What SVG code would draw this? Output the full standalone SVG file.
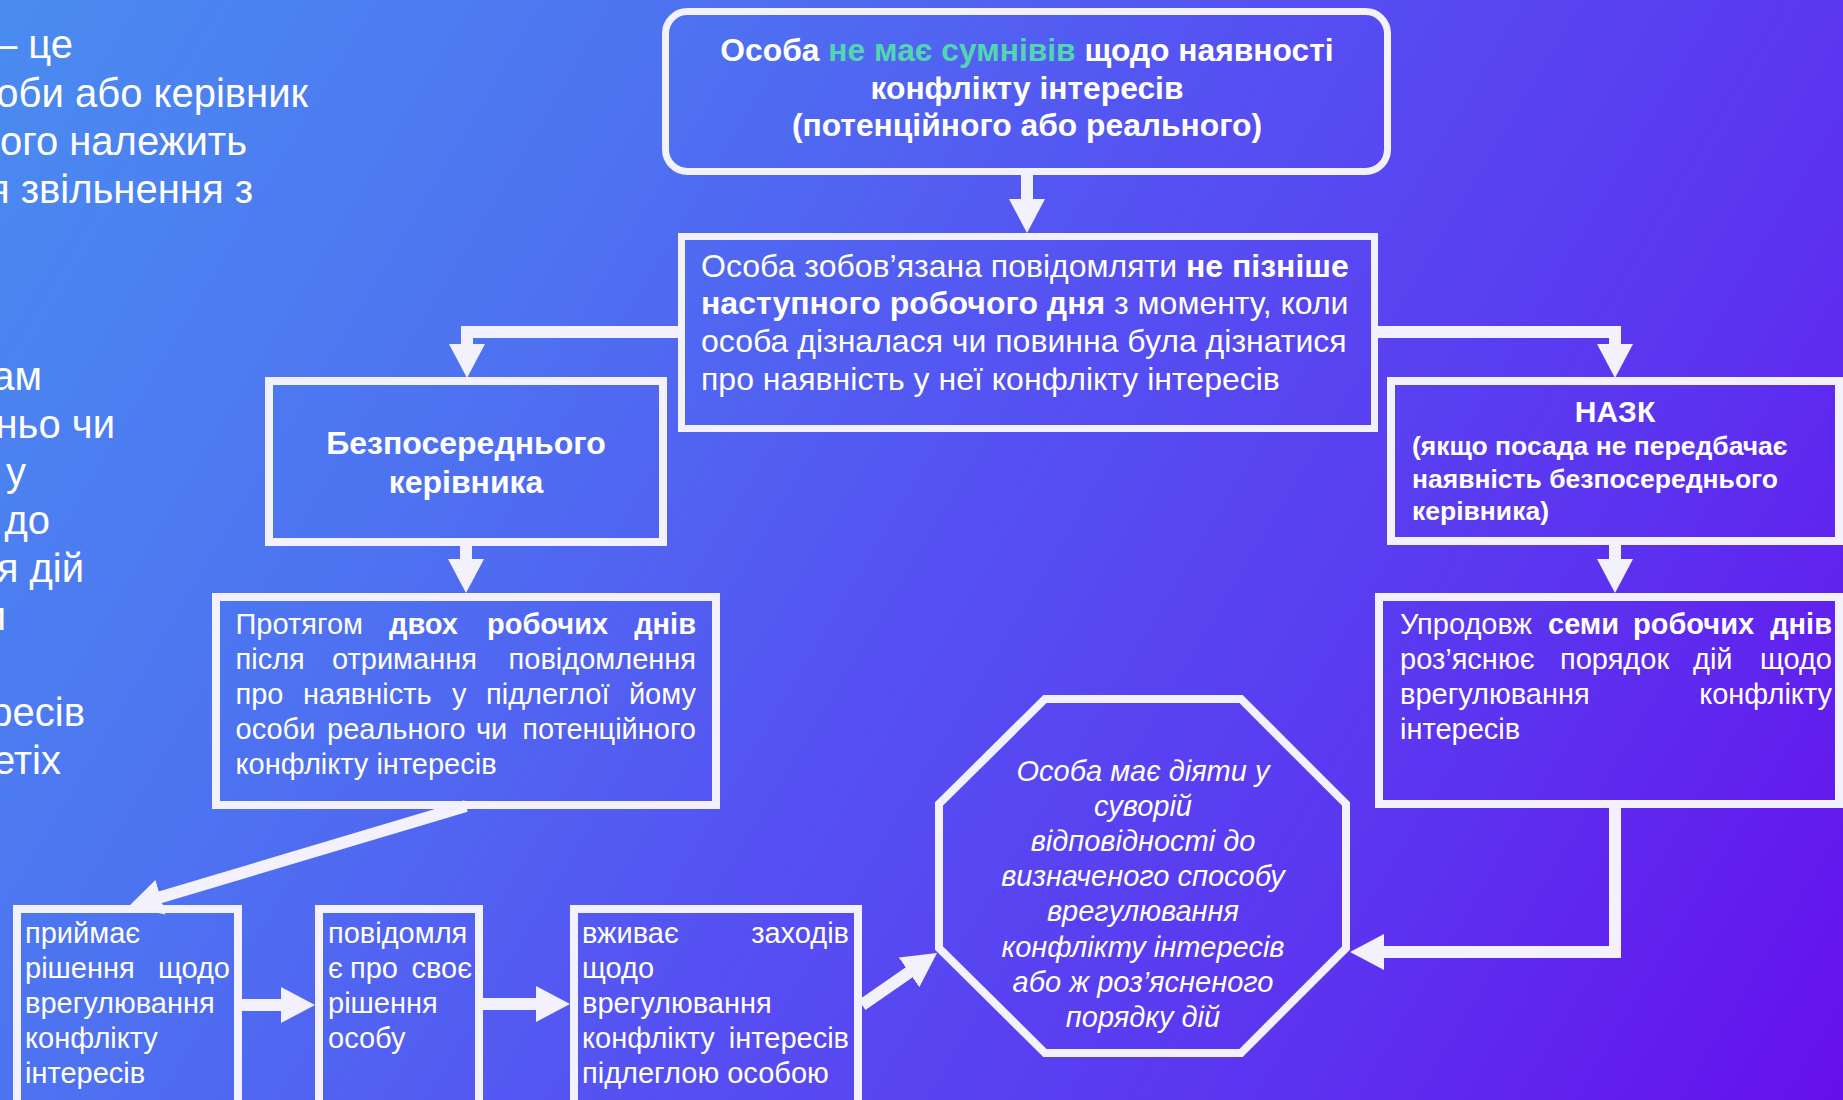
<svg xmlns="http://www.w3.org/2000/svg" width="1843" height="1100" viewBox="0 0 1843 1100">
<defs>
<linearGradient id="bg" gradientUnits="userSpaceOnUse" x1="0" y1="0" x2="1843" y2="1100">
<stop offset="0" stop-color="#4a8cf0"/>
<stop offset="0.3" stop-color="#4e70f1"/>
<stop offset="0.5" stop-color="#5552f2"/>
<stop offset="0.75" stop-color="#5b36f0"/>
<stop offset="1" stop-color="#6610ec"/>
</linearGradient>
<marker id="ah" markerUnits="userSpaceOnUse" markerWidth="34" markerHeight="36" viewBox="0 0 34 36" refX="2" refY="18" orient="auto">
<path d="M0 0 L34 18 L0 36 Z" fill="#f3f1fb"/>
</marker>
<style>
.t{font-family:"Liberation Sans",Arial,sans-serif;fill:#ffffff}
.b{font-weight:bold}
.i{font-style:italic}
.g{fill:#52d6b2}
.box{fill:none;stroke:#f3f1fb;stroke-width:8}
.con{fill:none;stroke:#f3f1fb;stroke-width:12;stroke-linejoin:miter;marker-end:url(#ah)}
.f40{font-size:40px}
.f32{font-size:32px}
.f29{font-size:29px}
.e{text-anchor:end}
.m{text-anchor:middle}
</style>
</defs>
<rect x="0" y="0" width="1843" height="1100" fill="url(#bg)"/>

<g id="left-text" class="t f40">
<text class="e" x="73" y="58">– це</text>
<text class="e" x="308" y="107">оби або керівник</text>
<text class="e" x="247" y="155">ого належить</text>
<text class="e" x="253" y="203">я звільнення з</text>
<text class="e" x="42" y="390">ам</text>
<text class="e" x="115" y="438">ньо чи</text>
<text class="e" x="26" y="486">у</text>
<text class="e" x="50" y="534">до</text>
<text class="e" x="84" y="582">я дій</text>
<text class="e" x="6" y="630">и</text>
<text class="e" x="85" y="726">ресів</text>
<text class="e" x="61" y="774">етіх</text>
</g>

<g id="connectors">
<path class="con" d="M1027 175 V201"/>
<path class="con" d="M681 332 H467 V346"/>
<path class="con" d="M1375 332 H1615 V346"/>
<path class="con" d="M466 546 V561"/>
<path class="con" d="M1615 545 V561"/>
<path class="con" d="M466 806 L158.7 897.8"/>
<path class="con" d="M242 1005 H283"/>
<path class="con" d="M483 1004 H538"/>
<path class="con" d="M862 1005 L910.7 971.2"/>
<path class="con" d="M1615 808 V952 H1382"/>
</g>

<g id="node-top">
<rect class="box" x="665.5" y="11.5" width="722" height="160" rx="22" style="stroke-width:7"/>
<text class="t b m" style="font-size:31.8px" x="1027" y="61">Особа <tspan class="g">не має сумнівів</tspan> щодо наявності</text>
<text class="t b m" style="font-size:31.8px" x="1027" y="98.5">конфлікту інтересів</text>
<text class="t b m" style="font-size:31.8px" x="1027" y="136">(потенційного або реального)</text>
</g>

<g id="node-notify">
<rect class="box" x="681.5" y="236.5" width="693" height="192" style="stroke-width:7"/>
<text class="t f32" x="701" y="277">Особа зобов’язана повідомляти <tspan class="b">не пізніше</tspan></text>
<text class="t f32" x="701" y="314"><tspan class="b">наступного робочого дня</tspan> з моменту, коли</text>
<text class="t f32" x="701" y="352">особа дізналася чи повинна була дізнатися</text>
<text class="t f32" x="701" y="390">про наявність у неї конфлікту інтересів</text>
</g>

<g id="node-manager">
<rect class="box" x="269" y="381" width="394" height="161"/>
<text class="t b m f32" x="466" y="454">Безпосереднього</text>
<text class="t b m f32" x="466" y="493">керівника</text>
</g>

<g id="node-nazk">
<rect class="box" x="1391" y="381" width="448" height="160"/>
<text class="t b m" style="font-size:30px" x="1615" y="422">НАЗК</text>
<text class="t b" style="font-size:26.5px" x="1412" y="455">(якщо посада не передбачає</text>
<text class="t b" style="font-size:26.5px" x="1412" y="488">наявність безпосереднього</text>
<text class="t b" style="font-size:26.5px" x="1412" y="520">керівника)</text>
</g>

<g id="node-two-days" class="t f29">
<rect class="box" x="216" y="597" width="500" height="208"/>
<text x="235.5" y="634">Протягом</text>
<text class="b" x="389" y="634">двох</text>
<text class="b" x="487" y="634">робочих</text>
<text class="b e" x="696" y="634">днів</text>
<text x="235.5" y="669">після</text>
<text x="332" y="669">отримання</text>
<text class="e" x="696" y="669">повідомлення</text>
<text x="235.5" y="704">про</text>
<text x="303" y="704">наявність</text>
<text x="452" y="704">у</text>
<text x="486" y="704">підлеглої</text>
<text class="e" x="696" y="704">йому</text>
<text x="235.5" y="739">особи</text>
<text x="327" y="739">реального</text>
<text x="476" y="739">чи</text>
<text class="e" x="696" y="739">потенційного</text>
<text x="235.5" y="774">конфлікту інтересів</text>
</g>

<g id="node-seven-days" class="t f29">
<rect class="box" x="1379" y="597" width="460" height="207"/>
<text x="1400" y="634">Упродовж</text>
<text class="b" x="1548" y="634">семи</text>
<text class="b" x="1633" y="634">робочих</text>
<text class="b e" x="1832" y="634">днів</text>
<text x="1400" y="669">роз’яснює</text>
<text x="1560" y="669">порядок</text>
<text x="1693" y="669">дій</text>
<text class="e" x="1832" y="669">щодо</text>
<text x="1400" y="704">врегулювання</text>
<text class="e" x="1832" y="704">конфлікту</text>
<text x="1400" y="739">інтересів</text>
</g>

<g id="node-decides" class="t f29">
<rect class="box" x="17" y="909" width="221" height="220"/>
<text x="25" y="943">приймає</text>
<text x="25" y="978">рішення</text>
<text class="e" x="230" y="978">щодо</text>
<text x="25" y="1013">врегулювання</text>
<text x="25" y="1048">конфлікту</text>
<text x="25" y="1083">інтересів</text>
</g>

<g id="node-informs" class="t f29">
<rect class="box" x="319" y="909" width="160" height="220"/>
<text x="328" y="943">повідомля</text>
<text x="328" y="978">є</text>
<text x="350" y="978">про</text>
<text class="e" x="472" y="978">своє</text>
<text x="328" y="1013">рішення</text>
<text x="328" y="1048">особу</text>
</g>

<g id="node-measures" class="t f29">
<rect class="box" x="574" y="909" width="284" height="220"/>
<text x="582" y="943">вживає</text>
<text class="e" x="849" y="943">заходів</text>
<text x="582" y="978">щодо</text>
<text x="582" y="1013">врегулювання</text>
<text x="582" y="1048">конфлікту</text>
<text class="e" x="849" y="1048">інтересів</text>
<text x="582" y="1083">підлеглою особою</text>
</g>

<g id="node-octagon" class="t f29 i m">
<polygon class="box" points="1045,699 1241,699 1346,804 1346,948 1241,1053 1045,1053 939,948 939,804"/>
<text x="1143" y="781">Особа має діяти у</text>
<text x="1143" y="816">суворій</text>
<text x="1143" y="851">відповідності до</text>
<text x="1143" y="886">визначеного способу</text>
<text x="1143" y="921">врегулювання</text>
<text x="1143" y="957">конфлікту інтересів</text>
<text x="1143" y="992">або ж роз’ясненого</text>
<text x="1143" y="1027">порядку дій</text>
</g>
</svg>
